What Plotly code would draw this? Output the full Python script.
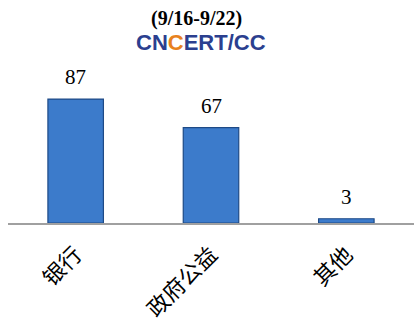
import plotly.graph_objects as go

categories = ["银行", "政府公益", "其他"]
values = [87, 67, 3]
title_text = "(9/16-9/22)"

fig = go.Figure()
fig.add_trace(go.Bar(
    x=categories, y=values,
    marker=dict(color="#3C7BCB", line=dict(color="#1E4A86", width=1.2)),
    width=0.41,
))

for c, v in zip(categories, values):
    fig.add_annotation(x=c, y=v, text=str(v), showarrow=False, yanchor="bottom",
                       yshift=8, font=dict(family="Liberation Serif", size=21, color="#000"))

fig.add_annotation(xref="paper", yref="paper", x=0.465, y=1.0, yshift=42, yanchor="middle",
                   text="<b>" + title_text + "</b>", showarrow=False,
                   font=dict(family="Liberation Serif", size=20, color="#000"))
fig.add_annotation(xref="paper", yref="paper", x=0.475, y=1.0, yshift=18, yanchor="middle",
                   text="<b>CN<span style='color:#E8821E'>C</span>ERT/CC</b>", showarrow=False,
                   font=dict(family="Liberation Sans", size=22, color="#2B3F8F"))

fig.update_layout(
    width=414, height=324,
    margin=dict(l=8, r=0, t=60, b=101),
    plot_bgcolor="white", paper_bgcolor="white",
    showlegend=False,
    xaxis=dict(showline=True, linecolor="#A0A0A0", linewidth=2, ticks="",
               tickangle=-45, ticklabelstandoff=8,
               tickfont=dict(family="Noto Sans CJK SC", size=22, color="#000"),
               showgrid=False),
    yaxis=dict(visible=False, range=[0, 114.4], showgrid=False, zeroline=False),
)

fig.write_html("out.html")
